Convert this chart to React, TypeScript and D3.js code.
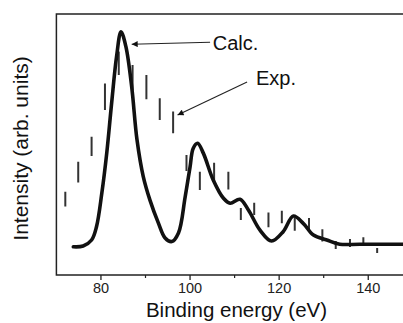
import React from "react";
import * as d3 from "d3";

// Calculated spectrum (binding energy eV, intensity arb. units)
const calcEnergy = [73.8, 76.0, 77.9, 79.0, 80.2, 81.3, 82.4, 83.5, 84.5, 85.6, 86.9, 88.1, 89.5, 91.0, 92.9, 94.4, 95.9, 97.4, 98.9, 100.0, 100.7, 101.7, 103.0, 105.2, 107.5, 109.0, 111.2, 113.1, 115.7, 118.3, 120.9, 123.2, 125.4, 127.7, 130.7, 133.6, 138.1, 150];
const calcIntensity = [10.8, 11.1, 13.4, 18.5, 31.4, 46.7, 65.9, 83.6, 93.2, 87.5, 72.1, 51.7, 37.7, 28.7, 19.9, 14.2, 12.8, 16.1, 29.9, 41.4, 48.5, 50.5, 46.6, 36.4, 29.4, 27.5, 29.0, 24.9, 17.2, 13.0, 16.6, 22.6, 19.8, 15.3, 13.4, 11.8, 11.8, 11.8];

// Experimental points shown as vertical error bars
const expEnergy = [72.0, 74.9, 77.9, 80.9, 84.0, 87.1, 90.2, 93.2, 96.2, 99.2, 102.2, 105.4, 108.6, 111.4, 114.4, 117.6, 120.6, 123.5, 126.7, 129.7, 132.7, 135.9, 138.9, 142.0];
const expLow = [26.2, 35.4, 45.6, 63.2, 76.6, 70.9, 67.3, 59.4, 54.3, 39.8, 32.6, 35.4, 32.8, 21.1, 23.0, 18.3, 19.8, 17.0, 17.2, 12.8, 10.0, 10.7, 11.3, 8.4];
const expHigh = [31.9, 43.4, 53.0, 73.4, 85.6, 80.5, 76.6, 67.7, 62.6, 46.0, 39.6, 43.0, 39.6, 25.7, 27.7, 23.9, 24.6, 21.8, 21.8, 17.5, 13.0, 13.8, 14.5, 10.3];

const majorTicks = [80, 100, 120, 140];
const minorTicks = [90, 110, 130];

const xLabel = "Binding energy (eV)";
const yLabel = "Intensity (arb. units)";

// annotations in data coordinates
const calcNote = { label: "Calc.", tip: [86.9, 88.4], tail: [104.5, 89.2], text: [105.1, 86.2] };
const expNote = { label: "Exp.", tip: [97.2, 61.3], tail: [112.8, 73.9], text: [114.8, 72.8] };

const W = 403;
const H = 323;
const FONT = "'Liberation Sans', Arial, Helvetica, sans-serif";

export default function App() {
  const x = d3.scaleLinear().domain([70, 150]).range([56.4, 412.8]);
  const y = d3.scaleLinear().domain([0, 100]).range([275, 14]);

  const calcData = calcEnergy.map((e, i) => [e, calcIntensity[i]] as [number, number]);
  const line = d3
    .line<[number, number]>()
    .x((d) => x(d[0]))
    .y((d) => y(d[1]))
    .curve(d3.curveCatmullRom.alpha(0.5));

  const notes = [calcNote, expNote];

  return (
    <svg width={W} height={H} style={{ position: "absolute", left: 0, top: 0, background: "#fff" }}>
      <defs>
        <marker id="arr" viewBox="0 0 10 10" refX="10" refY="5" markerWidth="7" markerHeight="6" orient="auto" markerUnits="userSpaceOnUse">
          <path d="M0,0 L10,5 L0,10 z" fill="#111" />
        </marker>
        <clipPath id="plotclip">
          <rect x={x(70)} y={y(100)} width={x(150) - x(70)} height={y(0) - y(100)} />
        </clipPath>
      </defs>

      {/* frame */}
      <rect x={x(70)} y={y(100)} width={x(150) - x(70)} height={y(0) - y(100)} fill="none" stroke="#222" strokeWidth={1.5} />

      {/* x ticks */}
      {majorTicks.map((t) => (
        <g key={"M" + t}>
          <line x1={x(t)} x2={x(t)} y1={y(0)} y2={y(0) + 5} stroke="#222" strokeWidth={1.3} />
          <text x={x(t)} y={y(0) + 18} textAnchor="middle" fontFamily={FONT} fontSize={14.5} fill="#222">
            {t}
          </text>
        </g>
      ))}
      {minorTicks.map((t) => (
        <line key={"m" + t} x1={x(t)} x2={x(t)} y1={y(0)} y2={y(0) + 3} stroke="#222" strokeWidth={1.2} />
      ))}

      {/* experimental bars and calculated curve */}
      <g clipPath="url(#plotclip)">
        {expEnergy.map((e, i) => (
          <line key={"e" + i} x1={x(e)} x2={x(e)} y1={y(expLow[i])} y2={y(expHigh[i])} stroke="#333" strokeWidth={2} />
        ))}
        <path d={line(calcData) || ""} fill="none" stroke="#111" strokeWidth={3.6} strokeLinejoin="round" strokeLinecap="round" />
      </g>

      {/* annotations */}
      {notes.map((n) => (
        <g key={n.label}>
          <line x1={x(n.tail[0])} y1={y(n.tail[1])} x2={x(n.tip[0])} y2={y(n.tip[1])} stroke="#222" strokeWidth={1.1} markerEnd="url(#arr)" />
          <text x={x(n.text[0])} y={y(n.text[1])} fontFamily={FONT} fontSize={20} fill="#111">
            {n.label}
          </text>
        </g>
      ))}

      {/* axis titles */}
      <text x={236.5} y={317} textAnchor="middle" fontFamily={FONT} fontSize={20.5} fill="#111">
        {xLabel}
      </text>
      <text transform={`translate(28, ${(y(100) + y(0)) / 2 + 4}) rotate(-90)`} textAnchor="middle" fontFamily={FONT} fontSize={21} fill="#111">
        {yLabel}
      </text>
    </svg>
  );
}
